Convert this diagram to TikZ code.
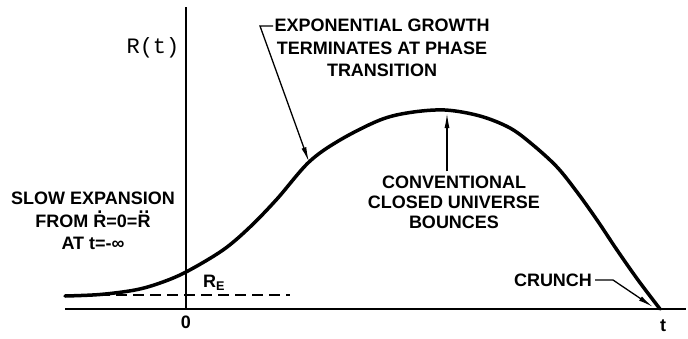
\documentclass[tikz,border=0pt]{standalone}
\usepackage{fontspec}
\setmainfont{Liberation Sans}
\newfontfamily\typefont{Liberation Mono}
\usetikzlibrary{arrows.meta}

% R with dots over it
\newcommand{\accR}[1]{\leavevmode\rlap{\hbox to \fontcharwd\font`R{\hss\raisebox{0.74em}{#1}\hss}}R}

\tikzstyle{note} = [font=\fontsize{18}{22.5}\selectfont\bfseries, align=center, inner sep=0pt]
\tikzstyle{curve} = [line width=3.5pt, line cap=round, line join=round]
\tikzstyle{lead} = [line width=1.3pt, -{Latex[length=15pt,width=5pt]}]

\begin{document}
\begin{tikzpicture}[x=1pt, y=-1pt]
\useasboundingbox (0,0) rectangle (688,338);

% axes
\coordinate (origin) at (186,309);
\coordinate (left end) at (65,309);
\coordinate (right end) at (686,309);
\coordinate (top end) at (186,7);
\draw[line width=2pt] (left end) -- (right end);
\draw[line width=1.3pt] (top end) -- (origin);
\node (rt) at (153,48) {\typefont\fontsize{22}{22}\selectfont R(t)};
\node[note] (zero) at (186,322) {0};
\node[note] (tend) at (663,326) {t};

% R_E level
\coordinate (re left) at (65,295);
\coordinate (re right) at (290,295);
\draw[line width=1.6pt, dash pattern=on 11pt off 6pt] (re left) -- (re right);
\node[note] (re) at (214,283) {R\textsubscript{E}};

% R(t)
\draw[curve] plot[smooth, tension=0.55] coordinates {
    (65,296) (100,294.5) (135,290) (160,283) (186,272) (223,250)
    (250,227) (277,199) (309,162) (340,140) (380,120) (410,112.5)
    (445,110) (480,116) (510,128) (533,145) (557,167) (577,192)
    (597,220) (617,250) (638,280) (660,309)};

% labels
\node[note] (slow) at (93,221) {SLOW EXPANSION\\FROM \accR{.}=0=\accR{.\kern0.03em.}\\AT t=-∞};
\node[note] (expo) at (382,48) {EXPONENTIAL GROWTH\\TERMINATES AT PHASE\\TRANSITION};
\node[note, font=\fontsize{18}{20}\selectfont\bfseries] (conv) at (454,202) {CONVENTIONAL\\CLOSED UNIVERSE\\BOUNCES};
\node[note] (crunch) at (553,280) {CRUNCH};

% leaders
\coordinate (expo tick) at (273,26);
\coordinate (growth end) at (309,162);
\coordinate (peak) at (447,113);
\coordinate (crunch bend) at (613,280);
\coordinate (crunch end) at (653,307);
\draw[lead] (expo tick) -- ++(-13,0) -- (growth end);
\draw[lead] (peak |- conv.north) ++(0,-4) -- (peak);
\draw[lead] (crunch.east) ++(3,0) -- (crunch bend) -- (crunch end);
\end{tikzpicture}
\end{document}
